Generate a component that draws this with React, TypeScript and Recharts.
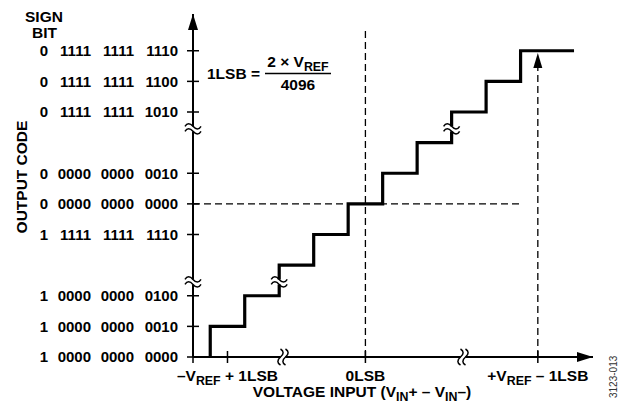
import React from "react";
import { LineChart, Line, XAxis, YAxis, ReferenceLine, ReferenceDot } from "recharts";

// staircase: x in LSB steps from -VREF, y = output code level (one level = one labelled code row)
const stepX = [0.5, 1.5, 2.5, 3.5, 4.5, 5.5, 6.5, 7.5, 8.5, 9.5, 11.05];
const stepLevel = [0, 1, 2, 3, 4, 5, 6, 7, 8, 9, 10];

const codeTicks = [0, 1, 2, 4, 5, 6, 8, 9, 10];
const codeLabels = [
  ["1", "0000", "0000", "0000"],
  ["1", "0000", "0000", "0010"],
  ["1", "0000", "0000", "0100"],
  ["1", "1111", "1111", "1110"],
  ["0", "0000", "0000", "0000"],
  ["0", "0000", "0000", "0010"],
  ["0", "1111", "1111", "1010"],
  ["0", "1111", "1111", "1100"],
  ["0", "1111", "1111", "1110"],
];

const inputTicks = [0, 1, 5, 10];
const inputLabels = ["", "–V{REF} + 1LSB", "0LSB", "+V{REF} – 1LSB"];

const codeBreaks = [2.45, 7.45];
const inputBreaks = [2.61, 7.83];
const stepBreakX = [2.5, 7.5];
const stepBreakY = [2.45, 7.45];

const zeroCode = 5;
const zeroInput = 5;
const fullInput = 10;

const data = stepX.map((x, i) => ({ x, code: stepLevel[i] }));

const FONT = "'Liberation Sans', Arial, Helvetica, sans-serif";

function Rich({ text, size }: { text: string; size: number }) {
  const parts = text.split(/\{(\w+)\}/);
  const shift = size * 0.28;
  return (
    <>
      {parts.map((p, i) =>
        i % 2 ? (
          <tspan key={i} fontSize={size * 0.8} dy={shift}>{p}</tspan>
        ) : (
          <tspan key={i} dy={i ? -shift : 0}>{p}</tspan>
        )
      )}
    </>
  );
}

function CodeTick(props: any) {
  const { x, y, payload } = props;
  const parts = codeLabels[codeTicks.indexOf(payload.value)];
  const ends = [-145, -102, -59, -15];
  return (
    <g>
      <line x1={x - 6} x2={x + 6} y1={y} y2={y} stroke="#000" strokeWidth={1.5} />
      {parts.map((p, i) => (
        <text key={i} x={x + ends[i]} y={y} dy="0.36em" textAnchor="end" fontFamily={FONT}
          fontWeight="bold" fontSize={15} fill="#000">
          {p}
        </text>
      ))}
    </g>
  );
}

function InputTick(props: any) {
  const { x, y, payload } = props;
  const label = inputLabels[inputTicks.indexOf(payload.value)];
  return (
    <g>
      <line x1={x} x2={x} y1={y - 6} y2={y + 6} stroke="#000" strokeWidth={1.5} />
      <text x={x} y={y + 24} textAnchor="middle" fontFamily={FONT} fontWeight="bold" fontSize={15.5} fill="#000">
        <Rich text={label} size={15.5} />
      </text>
    </g>
  );
}

function BreakMark(props: any) {
  const { cx, cy, turn } = props;
  const wave = (dy: number) => `M${cx - 8},${cy + dy} c2,-3.5 5,-3.5 8,0 s6,3.5 8,0`;
  return (
    <g transform={turn ? `rotate(90 ${cx} ${cy})` : undefined}>
      <rect x={cx - 3} y={cy - 2.5} width={6} height={5} fill="#fff" />
      <path d={wave(-2.5)} fill="none" stroke="#000" strokeWidth={1.5} />
      <path d={wave(2.5)} fill="none" stroke="#000" strokeWidth={1.5} />
    </g>
  );
}

function ArrowUp(props: any) {
  const { cx, cy, len = 16, half = 5 } = props;
  return <polygon points={`${cx},${cy} ${cx - half},${cy + len} ${cx + half},${cy + len}`} fill="#000" />;
}

function ArrowRight(props: any) {
  const { cx, cy } = props;
  return <polygon points={`${cx},${cy} ${cx - 16},${cy - 5} ${cx - 16},${cy + 5}`} fill="#000" />;
}

export default function App() {
  return (
    <div style={{ position: "absolute", left: 0, top: 0, width: 633, height: 404, background: "#fff" }}>
      <LineChart width={633} height={404} data={data} margin={{ top: 14, right: 40, left: 133, bottom: 17 }}>
        <XAxis
          type="number"
          dataKey="x"
          domain={[0, 11.6]}
          ticks={inputTicks}
          tick={<InputTick />}
          tickLine={false}
          tickSize={0}
          tickMargin={0}
          axisLine={{ stroke: "#000", strokeWidth: 2 }}
          allowDataOverflow
          label={{
            content: () => (
              <text x={362} y={397} textAnchor="middle" fontFamily={FONT} fontWeight="bold" fontSize={15.5} fill="#000">
                <Rich text="VOLTAGE INPUT (V{IN}+ – V{IN}–)" size={15.5} />
              </text>
            ),
          }}
        />
        <YAxis
          type="number"
          dataKey="code"
          domain={[0, 11.2]}
          ticks={codeTicks}
          tick={<CodeTick />}
          tickLine={false}
          tickSize={0}
          tickMargin={0}
          width={60}
          axisLine={{ stroke: "#000", strokeWidth: 2 }}
          allowDataOverflow
          label={{
            content: () => (
              <text x={27} y={177} transform="rotate(-90 27 177)" textAnchor="middle" fontFamily={FONT}
                fontWeight="bold" fontSize={15.5} fill="#000">
                OUTPUT CODE
              </text>
            ),
          }}
        />
        <ReferenceLine segment={[{ x: zeroInput, y: 0 }, { x: zeroInput, y: 10.7 }]} stroke="#000"
          strokeWidth={1.3} strokeDasharray="7 4" />
        <ReferenceLine segment={[{ x: 0, y: zeroCode }, { x: 9.56, y: zeroCode }]} stroke="#000"
          strokeWidth={1.3} strokeDasharray="7 4" />
        <ReferenceLine segment={[{ x: fullInput, y: 0 }, { x: fullInput, y: 9.45 }]} stroke="#000"
          strokeWidth={1.3} strokeDasharray="7 4" />
        <Line
          type="stepBefore"
          dataKey="code"
          stroke="#000"
          strokeWidth={3.2}
          dot={false}
          isAnimationActive={false}
        />
        <ReferenceDot x={fullInput} y={9.93} ifOverflow="visible" shape={<ArrowUp len={15} half={4.5} />} />
        <ReferenceDot x={0} y={11.2} ifOverflow="visible" shape={<ArrowUp />} />
        <ReferenceDot x={11.6} y={0} ifOverflow="visible" shape={<ArrowRight />} />
        {codeBreaks.map((v) => (
          <ReferenceDot key={"cb" + v} x={0} y={v} ifOverflow="visible" shape={<BreakMark />} />
        ))}
        {inputBreaks.map((v) => (
          <ReferenceDot key={"ib" + v} x={v} y={0} ifOverflow="visible" shape={<BreakMark turn />} />
        ))}
        {stepBreakX.map((v, i) => (
          <ReferenceDot key={"sb" + v} x={v} y={stepBreakY[i]} ifOverflow="visible" shape={<BreakMark />} />
        ))}
      </LineChart>
      <svg width={633} height={404} style={{ position: "absolute", left: 0, top: 0, pointerEvents: "none" }}>
        <g fontFamily={FONT} fontWeight="bold" fill="#000">
          <text x={25} y={22} fontSize={15.5}>SIGN</text>
          <text x={32} y={38} fontSize={15.5}>BIT</text>
          <text x={207} y={79} fontSize={15.5}>1LSB =</text>
          <text x={298} y={67} fontSize={15.5} textAnchor="middle">
            <Rich text="2 × V{REF}" size={15.5} />
          </text>
          <line x1={265} x2={331} y1={73.5} y2={73.5} stroke="#000" strokeWidth={1.5} />
          <text x={298} y={90} fontSize={15.5} textAnchor="middle">4096</text>
        </g>
        <text x={617} y={398} transform="rotate(-90 617 398)" fontFamily={FONT} fontSize={10} fill="#333">
          3123-013
        </text>
      </svg>
    </div>
  );
}
